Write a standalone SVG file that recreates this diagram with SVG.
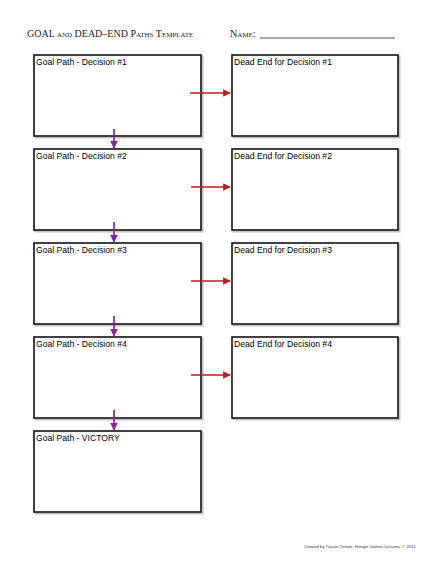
<svg xmlns="http://www.w3.org/2000/svg" width="433" height="570" viewBox="0 0 433 570">
<defs>
<style>
.box{fill:#fff;stroke:#111;stroke-width:1.6}
.sh{fill:none;stroke:#999;stroke-width:2;opacity:0.6}
.lbl{font-family:"Liberation Sans",Arial,sans-serif;font-size:8.6px;fill:#000}
.title{font-family:"Liberation Serif","Times New Roman",serif;font-variant:small-caps;font-size:10px;fill:#222}
.red{stroke:#b81c24;stroke-width:1.7;fill:none}
.pur{stroke:#8a20a8;stroke-width:1.7;fill:none}
</style>
<marker id="ar" viewBox="0 0 10 10" refX="9" refY="5" markerWidth="4.5" markerHeight="4.5" orient="auto" markerUnits="strokeWidth"><path d="M0,0 L10,5 L0,10 z" fill="#b81c24"/></marker>
<marker id="ap" viewBox="0 0 10 10" refX="9" refY="5" markerWidth="4.5" markerHeight="4.5" orient="auto" markerUnits="strokeWidth"><path d="M0,0 L10,5 L0,10 z" fill="#8a20a8"/></marker>
</defs>
<rect width="433" height="570" fill="#fff"/>
<text class="title" x="27" y="37">GOAL and DEAD–END Paths Template</text>
<text class="title" x="230" y="37">Name:</text>
<line x1="260" y1="38" x2="395" y2="38" stroke="#222" stroke-width="0.8"/>

<g id="goal1"><rect class="sh" x="35.5" y="56.5" width="167" height="81"/><rect class="box" x="34" y="55" width="167" height="81"/><text class="lbl" x="36" y="65">Goal Path - Decision #1</text></g>
<g id="goal2"><rect class="sh" x="35.5" y="150.5" width="167" height="81"/><rect class="box" x="34" y="149" width="167" height="81"/><text class="lbl" x="36" y="159">Goal Path - Decision #2</text></g>
<g id="goal3"><rect class="sh" x="35.5" y="244.5" width="167" height="81"/><rect class="box" x="34" y="243" width="167" height="81"/><text class="lbl" x="36" y="253">Goal Path - Decision #3</text></g>
<g id="goal4"><rect class="sh" x="35.5" y="338.5" width="167" height="81"/><rect class="box" x="34" y="337" width="167" height="81"/><text class="lbl" x="36" y="347">Goal Path - Decision #4</text></g>
<g id="victory"><rect class="sh" x="35.5" y="432.5" width="167" height="81"/><rect class="box" x="34" y="431" width="167" height="81"/><text class="lbl" x="36" y="441">Goal Path - VICTORY</text></g>

<g id="dead1"><rect class="sh" x="233.5" y="56.5" width="166" height="81"/><rect class="box" x="232" y="55" width="166" height="81"/><text class="lbl" x="234" y="65">Dead End for Decision #1</text></g>
<g id="dead2"><rect class="sh" x="233.5" y="150.5" width="166" height="81"/><rect class="box" x="232" y="149" width="166" height="81"/><text class="lbl" x="234" y="159">Dead End for Decision #2</text></g>
<g id="dead3"><rect class="sh" x="233.5" y="244.5" width="166" height="81"/><rect class="box" x="232" y="243" width="166" height="81"/><text class="lbl" x="234" y="253">Dead End for Decision #3</text></g>
<g id="dead4"><rect class="sh" x="233.5" y="338.5" width="166" height="81"/><rect class="box" x="232" y="337" width="166" height="81"/><text class="lbl" x="234" y="347">Dead End for Decision #4</text></g>

<g id="connectors">
<line class="red" x1="190" y1="93" x2="230" y2="93" marker-end="url(#ar)"/>
<line class="red" x1="191" y1="187" x2="230" y2="187" marker-end="url(#ar)"/>
<line class="red" x1="191" y1="281" x2="230" y2="281" marker-end="url(#ar)"/>
<line class="red" x1="191" y1="375" x2="230" y2="375" marker-end="url(#ar)"/>
<line class="pur" x1="114" y1="129" x2="114" y2="148" marker-end="url(#ap)"/>
<line class="pur" x1="114" y1="222" x2="114" y2="242" marker-end="url(#ap)"/>
<line class="pur" x1="114" y1="316" x2="114" y2="336" marker-end="url(#ap)"/>
<line class="pur" x1="114" y1="410" x2="114" y2="430" marker-end="url(#ap)"/>
</g>
<text x="304" y="548" font-family="Liberation Sans,Arial,sans-serif" font-size="4.2" fill="#333">Created by Tracee Orman, Hunger Games Lessons, © 2011</text>
</svg>
